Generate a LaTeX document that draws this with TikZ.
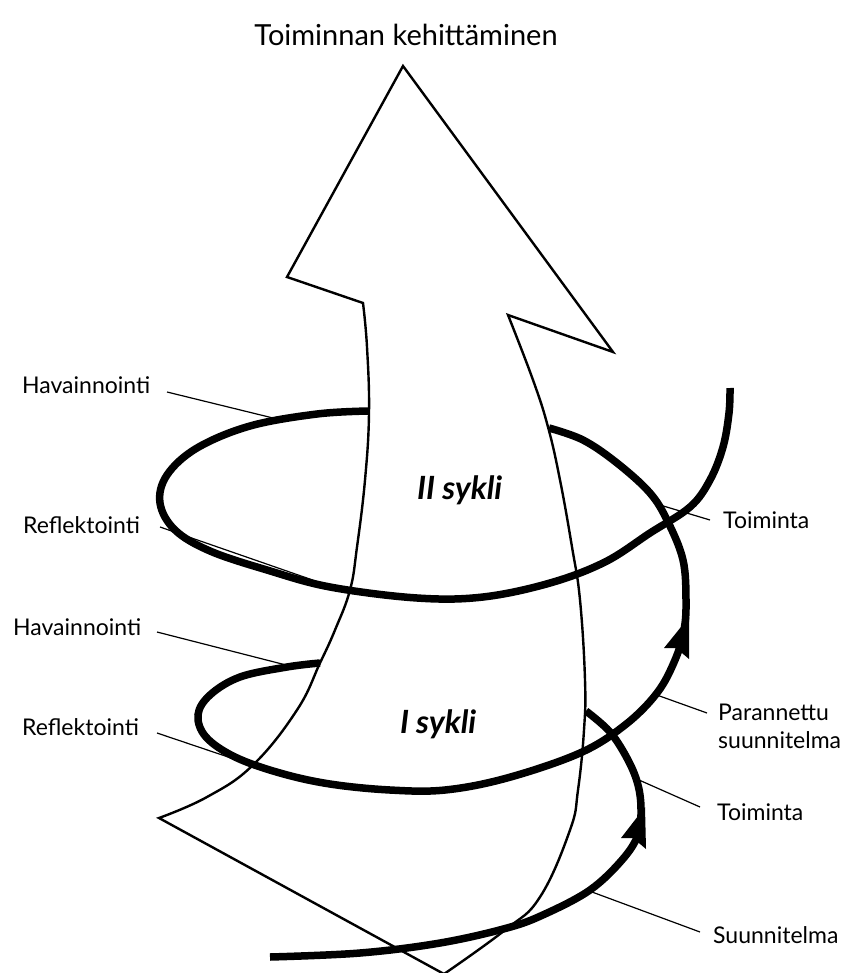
\documentclass[tikz,border=0pt]{standalone}
\usepackage{fontspec}
\setmainfont{Lato}
\begin{document}
\begin{tikzpicture}[x=1pt,y=-1pt,
  shaft/.style={draw=black, line width=2.4pt, fill=white, line join=miter},
  spiral/.style={line width=7.5pt, line cap=butt},
  leader/.style={line width=1.2pt},
  lab/.style={font=\fontsize{23}{28}\selectfont, inner sep=0pt, anchor=base west},
  cyc/.style={font=\fontsize{32}{36}\selectfont\bfseries\itshape, inner sep=0pt, anchor=base west},
  headfill/.style={fill=black}]
\useasboundingbox (0,0) rectangle (847,973);
\fill[white] (0,0) rectangle (847,973);

% big arrow (development)
\draw[shaft] (403,66) -- (613,352) -- (508,315)
  -- plot[smooth, tension=0.7] coordinates {(508,315) (533,380) (548,427) (560,480) (572,547) (580,600) (585,680) (584,730) (578,790) (570,830) (540,897) (505,930) (444,974)}
  -- (159,818)
  -- plot[smooth, tension=0.7] coordinates {(159,818) (207,797) (253,765) (297,710) (320,663) (335,630) (350,590) (357,547) (365,480) (369,413) (367,347) (363,303)}
  -- (287,277) -- cycle;

% spiral, lower front piece
\draw[spiral] plot[smooth, tension=0.6] coordinates {(270,957) (360,953) (440,943) (507,928) (545,914) (590,890) (622,860) (638,835) (641,810) (638,785) (628,760) (610,732) (586,711)};
% spiral, first cycle
\draw[spiral] plot[smooth, tension=0.6] coordinates {(320,663) (287,667) (240,677) (210,695) (198,715) (206,737) (235,757) (280,773) (330,784) (390,790) (445,790) (507,778) (580,753) (625,725) (657,693) (675,660) (684,630) (686,600) (683,560) (668,522) (650,493) (617,463) (583,440) (549,428)};
% spiral, second cycle
\draw[spiral] plot[smooth, tension=0.6] coordinates {(369,411) (317,414) (250,426) (197,448) (167,475) (160,503) (175,530) (210,551) (267,570) (330,587) (417,598) (483,597) (550,583) (605,562) (650,533) (690,507) (710,480) (723,447) (729,413) (730,388)};

% arrowheads on the spiral
\fill[headfill] (645,807) -- (621,838) -- (633,838) -- (646,849) -- cycle;
\fill[headfill] (689,617) -- (664,648) -- (676,648) -- (689,659) -- cycle;

% texts
\node[font=\fontsize{29}{34}\selectfont, inner sep=0pt, anchor=base] (title) at (406,46) {Toiminnan kehittäminen};
\node[cyc] (c2) at (417,499) {II sykli};
\node[cyc] (c1) at (400,733) {I sykli};

\node[lab] (hav2) at (22,393) {Havainnointi};
\node[lab] (ref2) at (23,533) {Reflektointi};
\node[lab] (hav1) at (13,635) {Havainnointi};
\node[lab] (ref1) at (22,735) {Reflektointi};
\node[lab] (toi2) at (723,528) {Toiminta};
\node[lab, align=left] (par) at (718,748) {Parannettu\\suunnitelma};
\node[lab] (toi1) at (717,820) {Toiminta};
\node[lab] (suu) at (713,943) {Suunnitelma};

% leader end points
\coordinate (hav2s) at (167,392); \coordinate (hav2e) at (273,418);
\coordinate (ref2s) at (160,527); \coordinate (ref2e) at (327,585);
\coordinate (hav1s) at (157,632); \coordinate (hav1e) at (286,665);
\coordinate (ref1s) at (157,733); \coordinate (ref1e) at (240,761);
\coordinate (toi2s) at (710,520); \coordinate (toi2e) at (660,505);
\coordinate (pars) at (707,713); \coordinate (pare) at (654,694);
\coordinate (toi1s) at (700,807); \coordinate (toi1e) at (639,780);
\coordinate (suus) at (700,932); \coordinate (suue) at (592,892);

\draw[leader] (hav2s) -- (hav2e);
\draw[leader] (ref2s) -- (ref2e);
\draw[leader] (hav1s) -- (hav1e);
\draw[leader] (ref1s) -- (ref1e);
\draw[leader] (toi2s) -- (toi2e);
\draw[leader] (pars) -- (pare);
\draw[leader] (toi1s) -- (toi1e);
\draw[leader] (suus) -- (suue);
\end{tikzpicture}
\end{document}
